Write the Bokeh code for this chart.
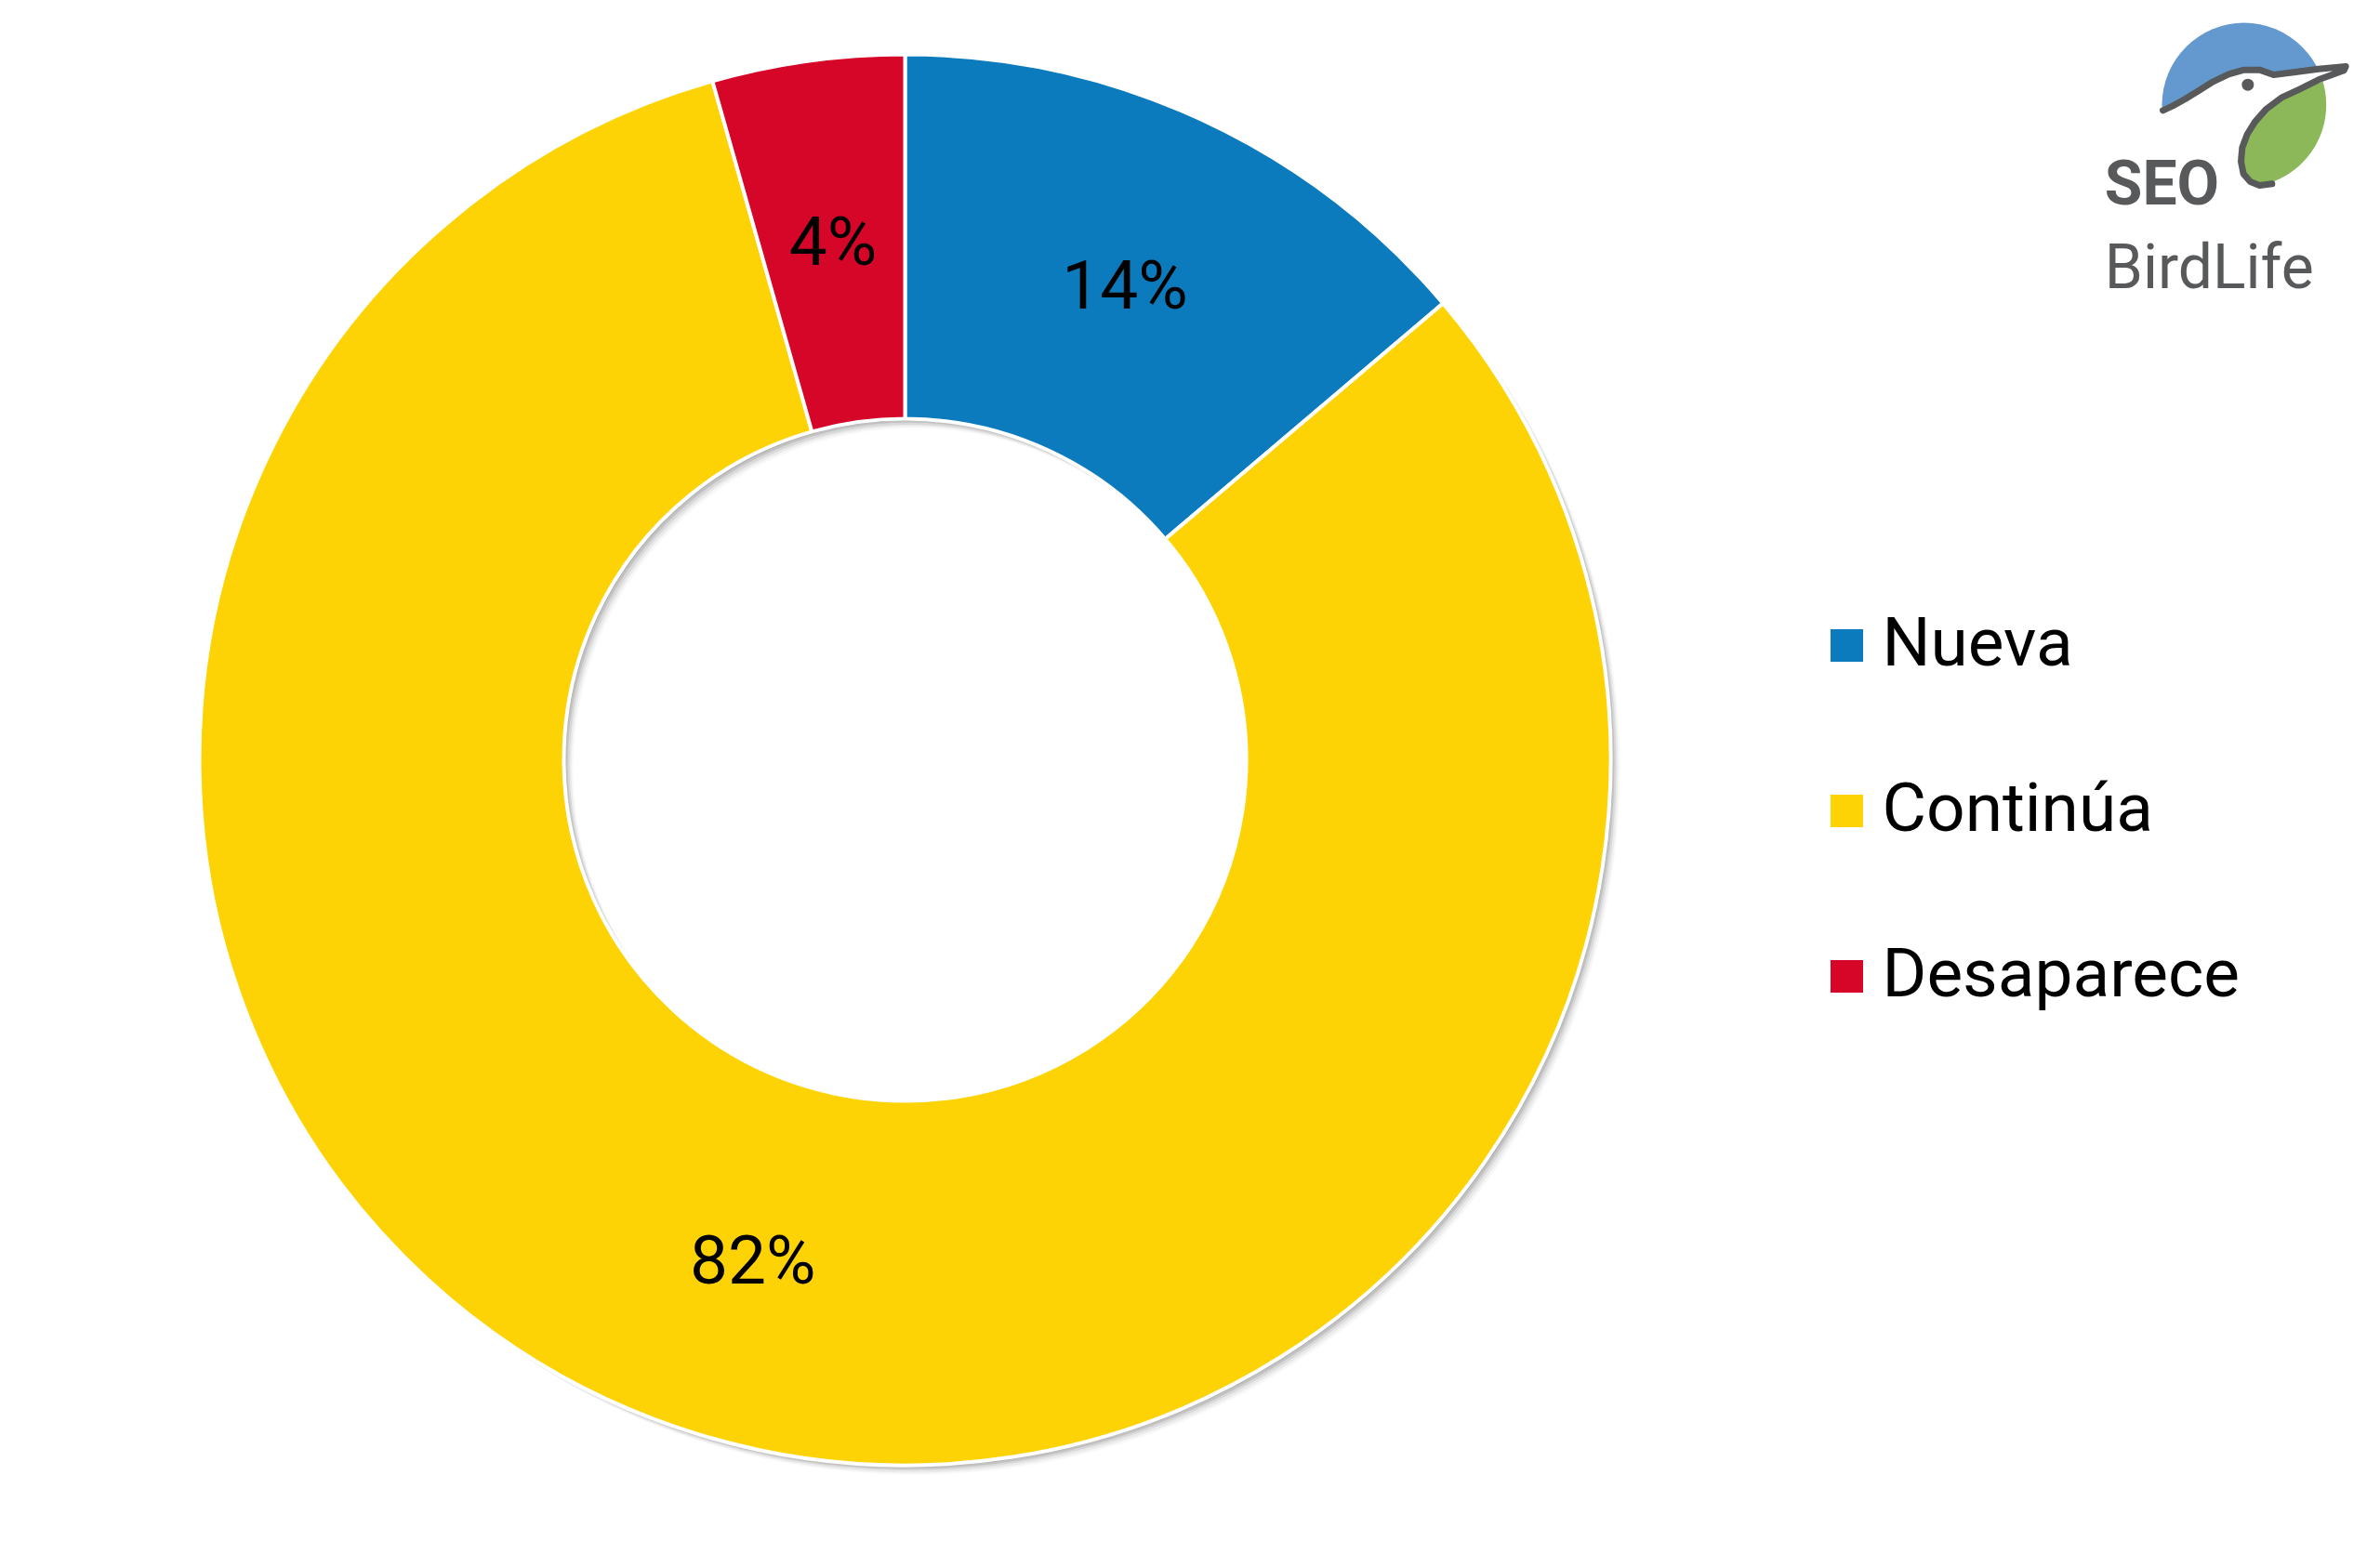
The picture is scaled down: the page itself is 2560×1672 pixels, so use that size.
import numpy as np
from bokeh.plotting import figure
from bokeh.core.properties import value
from bokeh.embed import file_html
from bokeh.resources import INLINE

W, H = 2540, 1650

# ---- data ----
categories = ["Nueva", "Continúa", "Desaparece"]
values = [13.8, 81.8, 4.4]
pct_labels = ["14%", "82%", "4%"]
colors = ["#0B7BBE", "#FED305", "#D60628"]

# ---- layout ----
cx, cy = 973, H - 817
r_in, r_out = 367, 759

p = figure(width=W, height=H, x_range=(0, W), y_range=(0, H),
           min_border=0, toolbar_location=None, output_backend="svg")
p.axis.visible = False
p.grid.visible = False
p.outline_line_color = None
p.background_fill_color = "white"
p.border_fill_color = "white"

# soft shadow
for d, a in [(2, 0.12), (4, 0.10), (6, 0.08), (8, 0.05), (10, 0.03)]:
    p.annulus(x=cx + d, y=cy - d, inner_radius=r_in, outer_radius=r_out,
              fill_color="#000000", fill_alpha=a, line_color=None)

frac = np.array(values) / sum(values)
cum = np.concatenate([[0.0], np.cumsum(frac)])
start = np.pi / 2 - 2 * np.pi * cum[:-1]
end = np.pi / 2 - 2 * np.pi * cum[1:]

p.annular_wedge(x=cx, y=cy, inner_radius=r_in, outer_radius=r_out,
                start_angle=list(start), end_angle=list(end), direction="clock",
                fill_color=colors, line_color="white", line_width=4)

mid = (start + end) / 2
rm = (r_in + r_out) / 2
p.text(x=list(cx + rm * np.cos(mid)), y=list(cy + rm * np.sin(mid)), text=pct_labels,
       text_font=value("Roboto"), text_font_size="73px", text_color="#000000",
       text_align="center", text_baseline="middle")

# ---- legend ----
leg_x, leg_y0, leg_dy = 1986, H - 694, 178
ly = [leg_y0 - i * leg_dy for i in range(len(categories))]
p.rect(x=leg_x, y=ly, width=35, height=35, fill_color=colors, line_color=None)
p.text(x=leg_x + 38, y=[v + 4 for v in ly], text=categories,
       text_font=value("Roboto"), text_font_size="73px", text_color="#000000",
       text_align="left", text_baseline="middle")

# ---- logo (SEO BirdLife) ----
def L(zx, zy):
    zx = np.asarray(zx, dtype=float)
    zy = np.asarray(zy, dtype=float)
    rx = 2200 + zx / 3.0
    ry = zy / 3.0
    return list(rx), list(H - ry)

grey = "#58595B"
ccx, ccy, cr = 640, 337, 265
bx, by = L([ccx], [ccy])
p.circle(x=bx[0], y=by[0], radius=cr / 3.0, fill_color="#6499CF", line_color=None)

head_x = [378, 410, 450, 495, 540, 590, 640, 690, 735, 800, 880, 968]
head_y = [355, 340, 318, 290, 262, 238, 224, 224, 240, 232, 221, 213]
wx, wy = L(head_x + [1000, 1000, 340, 340], head_y + [213, 700, 700, 355])
p.patch(x=wx, y=wy, fill_color="white", line_color=None)

# green leaf
ang = np.linspace(np.arctan2(-(262 - ccy), 894 - ccx), np.arctan2(-(597 - ccy), 690 - ccx), 40)
gx = list(ccx + cr * np.cos(ang))
gy = list(ccy - cr * np.sin(ang))
throat_x = [690, 660, 638, 630, 634, 650, 675, 710, 760, 820, 894]
throat_y = [597, 585, 560, 520, 475, 432, 392, 352, 314, 286, 262]
gxx, gyy = L(gx + throat_x, gy + throat_y)
p.patch(x=gxx, y=gyy, fill_color="#8CB85A", line_color=None)

lx, lyy = L(head_x + [962, 880] + throat_x[::-1][1:] + [730],
            head_y + [226, 256] + throat_y[::-1][1:] + [592])
p.line(x=lx, y=lyy, line_color=grey, line_width=7, line_join="round", line_cap="round")
ex, ey = L([652], [272])
p.circle(x=ex[0], y=ey[0], radius=6.5, fill_color=grey, line_color=None)

sx, sy = L([190], [592])
p.text(x=sx, y=sy, text=["SEO"], text_font=value("Roboto"),
       text_font_style="bold", text_font_size="66px", text_color=grey,
       text_align="left", text_baseline="middle")
tx, ty = L([190], [862])
p.text(x=tx, y=ty, text=["BirdLife"], text_font=value("Roboto"),
       text_font_size="66px", text_color=grey,
       text_align="left", text_baseline="middle")

open("out.html", "w").write(file_html(p, INLINE))
